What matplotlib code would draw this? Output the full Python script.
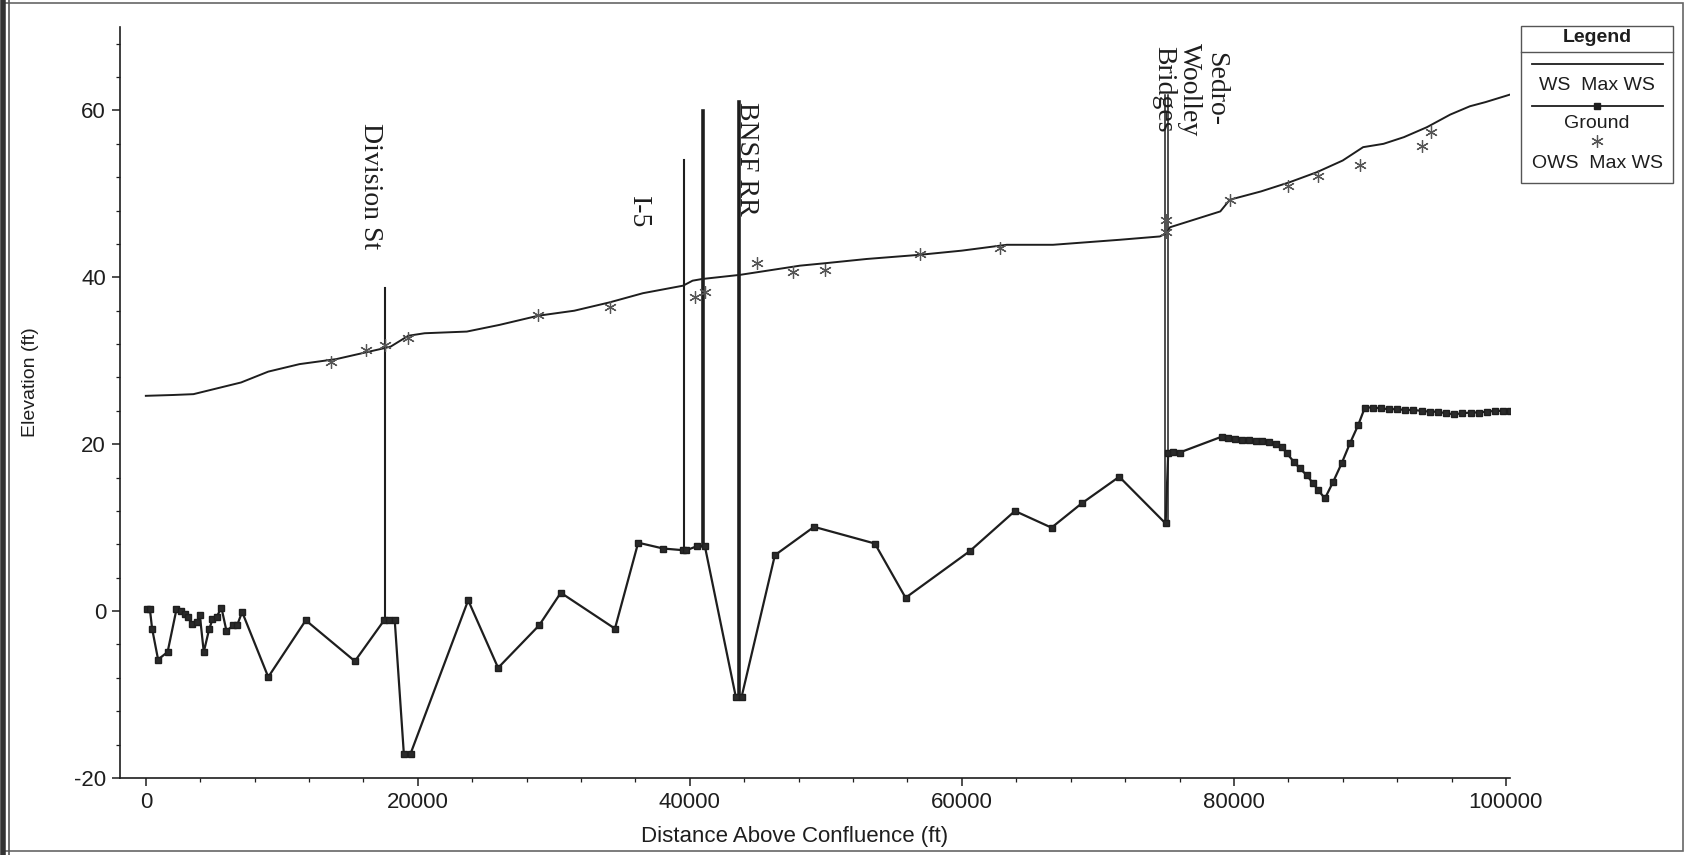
import matplotlib
matplotlib.use("Agg")
import matplotlib.pyplot as plt
from matplotlib.lines import Line2D
from matplotlib.patches import Rectangle
from matplotlib.ticker import MultipleLocator

plt.rcParams["axes.unicode_minus"] = False

# ---------------- data ----------------
ws_x = [0, 2000, 3500, 4500, 5500, 7000, 9000, 11300, 14000, 17500, 18000, 19300,
        20500, 23600, 26000, 28850, 31500, 34100, 36550, 39500, 40200, 40900, 43700,
        48100, 50000, 53000, 56900, 60000, 63300, 66700, 71600, 74560, 75050, 75300,
        79000, 79700, 82000, 84100, 86100, 88000, 89500, 91000, 92500, 94200, 95900,
        97350, 98500, 100300]
ws_y = [25.8, 25.9, 26.0, 26.4, 26.8, 27.4, 28.7, 29.6, 30.2, 31.5, 31.7, 33.0,
        33.3, 33.5, 34.3, 35.4, 36.0, 37.0, 38.1, 39.0, 39.6, 39.8, 40.3,
        41.4, 41.7, 42.2, 42.7, 43.2, 43.9, 43.9, 44.5, 44.9, 45.3, 46.0,
        47.9, 49.3, 50.3, 51.4, 52.6, 54.0, 55.6, 56.0, 56.8, 58.0, 59.5,
        60.5, 61.0, 61.9]

gr_x = [50, 300, 460, 900, 1600, 2250, 2620, 2870, 3110, 3360, 3730, 3970, 4260,
        4650, 4900, 5200, 5560, 5930, 6420, 6710, 7080, 9000, 11760, 15370, 17520,
        17890, 18300, 18970, 19460, 23700, 25900, 28920, 30510, 34490, 36200, 38040,
        39510, 39750, 40560, 41100, 43380, 43800, 46250, 49130, 53600, 55860, 60590,
        63900, 66590, 68800, 71570, 74980, 75170, 75500, 76000, 79100, 79600, 80100,
        80600, 81100, 81600, 82100, 82600, 83100, 83500, 83900, 84400, 84850, 85350,
        85830, 86200, 86690, 87300, 87920, 88530, 89140, 89630, 90200, 90800, 91400,
        92000, 92600, 93200, 93800, 94400, 95000, 95600, 96200, 96800, 97400, 98000,
        98600, 99200, 99800, 100300]
gr_y = [0.3, 0.2, -2.1, -5.8, -4.9, 0.2, 0.0, -0.3, -0.7, -1.6, -1.3, -0.5, -4.9,
        -2.2, -1.0, -0.7, 0.4, -2.4, -1.7, -1.7, -0.1, -7.9, -1.1, -6.0, -1.1,
        -1.1, -1.1, -17.1, -17.1, 1.3, -6.8, -1.7, 2.2, -2.1, 8.2, 7.5,
        7.3, 7.3, 7.8, 7.8, -10.3, -10.3, 6.7, 10.1, 8.1, 1.6, 7.2,
        12.0, 10.0, 12.9, 16.1, 10.5, 19.0, 19.1, 19.0, 20.9, 20.7, 20.6,
        20.5, 20.5, 20.4, 20.4, 20.3, 20.0, 19.7, 18.9, 17.9, 17.1, 16.3,
        15.3, 14.5, 13.5, 15.5, 17.7, 20.1, 22.3, 24.4, 24.4, 24.3, 24.2,
        24.2, 24.1, 24.1, 24.0, 23.9, 23.9, 23.7, 23.6, 23.7, 23.8, 23.8,
        23.9, 24.0, 24.0, 24.0]

ows_x = [13650, 16200, 17600, 19300, 28850, 34100, 40370, 41100, 44900, 47600,
         49930, 56910, 62790, 75000, 75000, 79700, 84000, 86200, 89300, 93800, 94500]
ows_y = [29.9, 31.3, 31.9, 32.7, 35.5, 36.5, 37.7, 38.3, 41.7, 40.6,
         40.9, 42.8, 43.5, 46.9, 45.4, 49.3, 50.9, 52.2, 53.5, 55.7, 57.4]

# bridges: x, bottom, top
bridge_x = [17570, 39560, 40930, 43620, 74950, 75150]
bridge_lo = [-1.1, 7.3, 7.8, -10.3, 10.5, 10.5]
bridge_hi = [38.7, 54.1, 59.9, 61.0, 61.9, 61.9]
bridge_lw = [1.5, 1.5, 2.6, 2.6, 1.1, 1.1]

label_text = ["Division St", "I-5", "BNSF RR", "Sedro-\nWoolley\nBridges"]
label_x = [16530, 36200, 44170, 76760]
label_y = [58.5, 49.7, 61.0, 68.1]

x_ticks = [0, 20000, 40000, 60000, 80000, 100000]
y_ticks = [-20, 0, 20, 40, 60]

# ---------------- figure ----------------
W, H = 1687, 855
fig = plt.figure(figsize=(W / 100, H / 100), dpi=100)
fig.patch.set_facecolor("white")

ax = fig.add_axes([120 / W, 1 - 778 / H, 1390 / W, 751 / H])
ax.set_xlim(-1900, 100300)
ax.set_ylim(-20, 70)
ink = "#1e1e1e"

ax.plot(ws_x, ws_y, color=ink, lw=1.4, zorder=3)
ax.plot(gr_x, gr_y, color=ink, lw=1.6, marker="s", markersize=5,
        markerfacecolor="#2a2a2a", markeredgecolor=ink, zorder=3)
ax.plot(ows_x, ows_y, linestyle="none", marker=(6, 2, 0), markersize=9,
        markeredgewidth=0.9, color="#555555", zorder=4)

for bx, lo, hi, lw in zip(bridge_x, bridge_lo, bridge_hi, bridge_lw):
    ax.plot([bx, bx], [lo, hi], color=ink, lw=lw, zorder=2)

for t, tx, ty in zip(label_text, label_x, label_y):
    ax.text(tx, ty, t, rotation=-90, ha="center", va="top",
            fontsize=20, family="Liberation Serif", color=ink,
            linespacing=1.05, zorder=5)

for s in ["top", "right"]:
    ax.spines[s].set_visible(False)
for s in ["left", "bottom"]:
    ax.spines[s].set_color(ink)
    ax.spines[s].set_linewidth(1.2)

ax.set_xticks(x_ticks)
ax.set_yticks(y_ticks)
ax.xaxis.set_minor_locator(MultipleLocator(4000))
ax.yaxis.set_minor_locator(MultipleLocator(4))
ax.tick_params(which="major", direction="out", length=6, width=1.1,
               labelsize=16, colors=ink, pad=4)
ax.tick_params(which="minor", direction="out", length=3, width=0.9, colors=ink)
for lab in ax.get_xticklabels() + ax.get_yticklabels():
    lab.set_family("Liberation Sans")

ax.set_xlabel("Distance Above Confluence (ft)", fontsize=16,
              family="Liberation Sans", color=ink)
ax.set_ylabel("Elevation (ft)", fontsize=14, family="Liberation Sans", color=ink)
ax.xaxis.set_label_coords(0.485, -0.064)
ax.yaxis.set_label_coords(-0.058, 0.527)

# ---------------- legend (drawn manually) ----------------
def fx(px):
    return px / W

def fy(py):
    return 1 - py / H

fig.add_artist(Rectangle((fx(1521), fy(183)), fx(1673) - fx(1521), fy(26) - fy(183),
                         transform=fig.transFigure, facecolor="white",
                         edgecolor="#555555", lw=1.0, zorder=10))
fig.add_artist(Line2D([fx(1521), fx(1673)], [fy(52.5), fy(52.5)],
                      transform=fig.transFigure, color="#555555", lw=1.0, zorder=11))
fig.text(fx(1597), fy(37), "Legend", ha="center", va="center", fontsize=14,
         weight="bold", family="Liberation Sans", color=ink, zorder=12)
fig.add_artist(Line2D([fx(1532), fx(1663)], [fy(64), fy(64)],
                      transform=fig.transFigure, color=ink, lw=1.3, zorder=11))
fig.text(fx(1597), fy(85), "WS  Max WS", ha="center", va="center", fontsize=14,
         family="Liberation Sans", color=ink, zorder=12)
fig.add_artist(Line2D([fx(1532), fx(1663)], [fy(106), fy(106)],
                      transform=fig.transFigure, color=ink, lw=1.3, zorder=11))
fig.add_artist(Line2D([fx(1597)], [fy(106)], transform=fig.transFigure,
                      marker="s", markersize=5, color=ink, zorder=12))
fig.text(fx(1597), fy(124), "Ground", ha="center", va="center", fontsize=14,
         family="Liberation Sans", color=ink, zorder=12)
fig.add_artist(Line2D([fx(1597)], [fy(141)], transform=fig.transFigure,
                      marker=(6, 2, 0), markersize=9, markeredgewidth=0.9,
                      color="#555555", linestyle="none", zorder=12))
fig.text(fx(1597), fy(164), "OWS  Max WS", ha="center", va="center", fontsize=14,
         family="Liberation Sans", color=ink, zorder=12)

# ---------------- outer frame ----------------
fig.add_artist(Rectangle((fx(4), fy(851)), fx(1683) - fx(4), fy(3) - fy(851),
                         transform=fig.transFigure, facecolor="none",
                         edgecolor="#666666", lw=1.2, zorder=9))
fig.add_artist(Line2D([fx(3), fx(3)], [fy(0), fy(855)], transform=fig.transFigure,
                      color="#333333", lw=4, zorder=9))
fig.add_artist(Line2D([fx(9), fx(9)], [fy(0), fy(855)], transform=fig.transFigure,
                      color="#555555", lw=1.2, zorder=9))

fig.savefig("out.png", dpi=100, facecolor="white")
